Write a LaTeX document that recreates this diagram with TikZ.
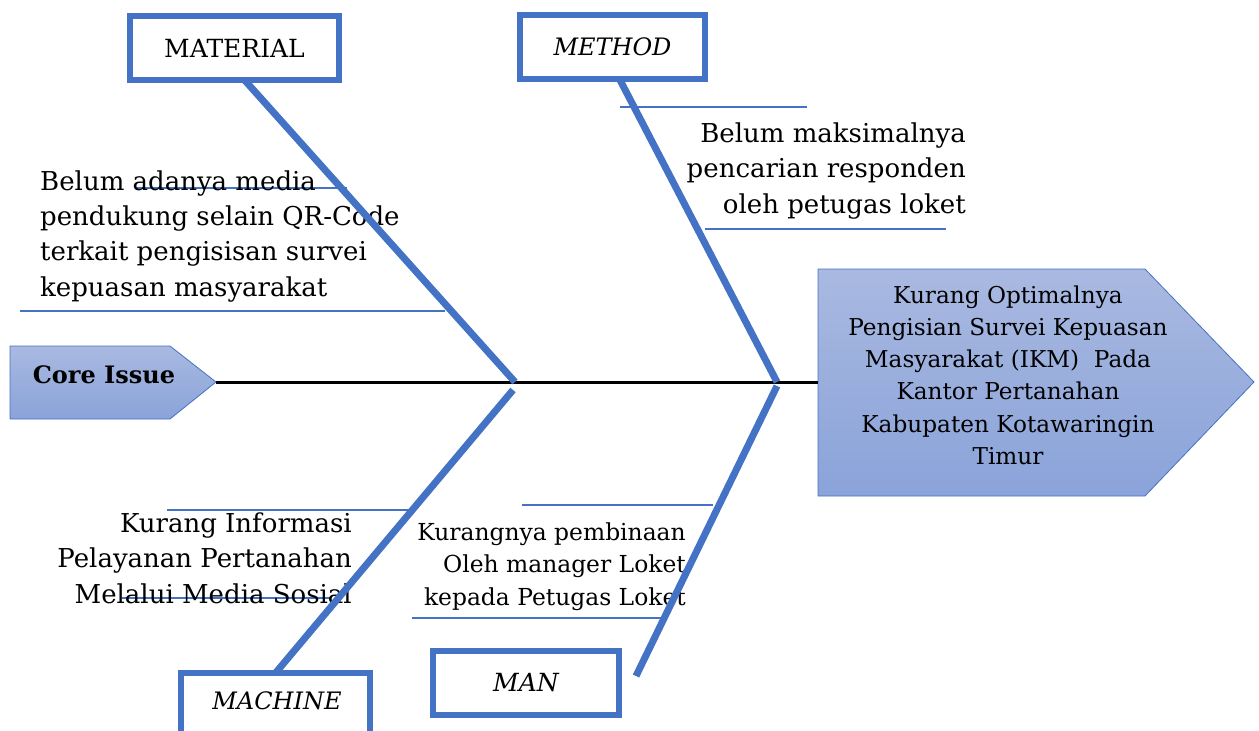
\documentclass[tikz,border=0pt]{standalone}
\usepackage{fontspec}
\setmainfont{DejaVu Serif}
\usetikzlibrary{calc}
\definecolor{bone}{HTML}{4472C4}
\definecolor{ftop}{HTML}{A9B9E1}
\definecolor{fbot}{HTML}{8AA3D9}
\tikzset{
  catbox/.style={draw=bone, line width=6pt, fill=white, minimum width=#1, minimum height=64pt, inner sep=0pt, outer sep=0pt},
  bonel/.style={draw=bone, line width=7pt},
  twig/.style={draw=bone, line width=1.3pt},
  cause/.style={inner sep=0pt, font=\fontsize{26}{35.3}\selectfont},
  cause2/.style={inner sep=0pt, font=\fontsize{23.4}{32.5}\selectfont},
}
\begin{document}
\begin{tikzpicture}[x=1pt,y=-1pt]
\useasboundingbox (0,0) rectangle (1259,731);
% spine
\coordinate (j1) at (515,382);
\coordinate (j2) at (777,382);
\coordinate (j1b) at (513,390);
\coordinate (j2b) at (777,386);
% core issue
\path[shading=axis, top color=ftop, bottom color=fbot, draw=bone, line width=0.8pt]
  (10,346) -- (170,346) -- (216,382) -- (170,419) -- (10,419) -- cycle;
\node[inner sep=0pt, font=\fontsize{24}{28}\selectfont\bfseries] (core) at (104,375) {Core Issue};
\coordinate (ctip) at (216,382);
% head
\path[shading=axis, top color=ftop, bottom color=fbot, draw=bone, line width=0.8pt]
  (818,269) -- (1145,269) -- (1254,382) -- (1145,496) -- (818,496) -- cycle;
\coordinate (htail) at (818,382);
\node[align=center, inner sep=0pt, anchor=base, font=\fontsize{23.2}{32.3}\selectfont] (head) at (1008,464.5)
 {Kurang Optimalnya\\Pengisian Survei Kepuasan\\Masyarakat (IKM)\ \ Pada\\Kantor Pertanahan\\Kabupaten Kotawaringin\\Timur};
\draw[line width=3pt] (ctip) -- (htail);
% category boxes
\node[catbox=209pt, font=\fontsize{25}{28}\selectfont] (mat) at (234.5,48) {MATERIAL};
\node[catbox=185pt, font=\fontsize{24}{28}\selectfont\itshape] (met) at (612.5,47) {METHOD};
\node[catbox=189pt] (mach) at (275.5,705) {};
\node[inner sep=0pt, font=\fontsize{24}{28}\selectfont\itshape] (machlabel) at (277,701) {MACHINE};
\node[catbox=186pt, font=\fontsize{25}{28}\selectfont\itshape] (man) at (526,683) {MAN};
\coordinate (manend) at (636,676);
% twigs
\draw[twig] (135,188) -- (347,188);
\draw[twig] (20,311) -- (445,311);
\draw[twig] (620,107) -- (807,107);
\draw[twig] (705,229) -- (946,229);
\draw[twig] (167,510) -- (410,510);
\draw[twig] (122,598) -- (330,598);
\draw[twig] (522,505) -- (713,505);
\draw[twig] (412,618) -- (667,618);
% cause texts
\node[cause, align=left, anchor=base west] (c1) at (40,296)
 {Belum adanya media\\pendukung selain QR-Code\\terkait pengisisan survei\\kepuasan masyarakat};
\node[cause, align=right, anchor=base east] (c2) at (966,213)
 {Belum maksimalnya\\pencarian responden\\oleh petugas loket};
\node[cause, align=right, anchor=base east] (c3) at (352,603)
 {Kurang Informasi\\Pelayanan Pertanahan\\Melalui Media Sosial};
\node[cause2, align=right, anchor=base east] (c4) at (686,605)
 {Kurangnya pembinaan\\Oleh manager Loket\\kepada Petugas Loket};
% bones
\draw[bonel] ([xshift=10pt]mat.south) -- (j1);
\draw[bonel] ([xshift=7pt]met.south) -- (j2);
\draw[bonel] (j1b) -- (mach.north);
\draw[bonel] (j2b) -- (manend);
\end{tikzpicture}
\end{document}
